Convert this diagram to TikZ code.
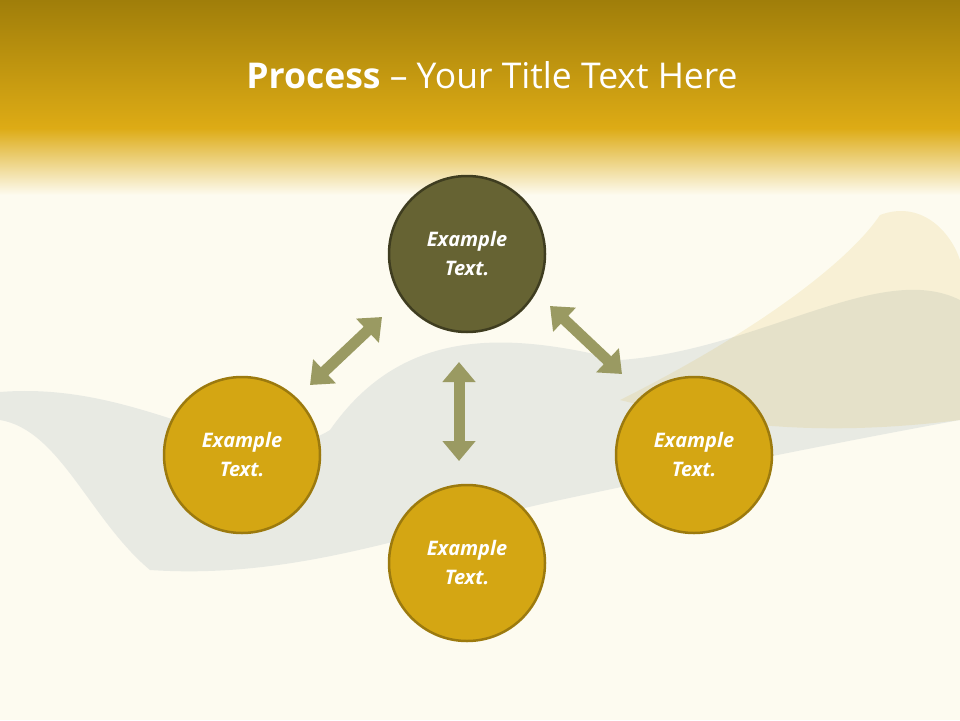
\documentclass[tikz,border=0pt]{standalone}
\usepackage{fontspec}
\setmainfont{Open Sans}
\usetikzlibrary{arrows.meta}
\definecolor{cream}{HTML}{FDFBF0}
\definecolor{golddark}{HTML}{A07E0A}
\definecolor{goldmid}{HTML}{DDAB15}
\definecolor{olive}{HTML}{666333}
\definecolor{olivebd}{HTML}{3F3D20}
\definecolor{goldc}{HTML}{D4A613}
\definecolor{goldbd}{HTML}{9C7A0E}
\definecolor{arr}{HTML}{9A9A62}
\definecolor{ribbon}{HTML}{B8C3C8}
\tikzset{
 circ/.style={circle,minimum size=156pt,inner sep=0pt,line width=2.5pt,draw=goldbd,fill=goldc,text=white,font=\fontsize{20}{29}\selectfont\bfseries\itshape,align=center},
 darkcirc/.style={circ,draw=olivebd,fill=olive},
 dbl/.style={arr,line width=11pt,{Triangle[width=32pt,length=20pt]}-{Triangle[width=32pt,length=20pt]}}
}
\begin{document}
\begin{tikzpicture}[x=1pt,y=-1pt]
\useasboundingbox (0,0) rectangle (960,720);
\fill[cream] (0,0) rectangle (960,720);
\shade[top color=golddark,bottom color=goldmid] (0,0) rectangle (960,128);
\shade[top color=goldmid,bottom color=cream] (0,128) rectangle (960,195);
% ribbon
\fill[ribbon,opacity=0.3] (0,392) .. controls (150,380) and (250,480) .. (330,430)
 .. controls (400,330) and (500,330) .. (620,360) .. controls (760,350) and (880,260) .. (960,300)
 -- (960,420) .. controls (850,440) and (700,470) .. (560,500)
 .. controls (420,530) and (300,580) .. (150,570) .. controls (90,520) and (60,430) .. (0,420) -- cycle;
\fill[goldc,opacity=0.12] (880,215) .. controls (920,200) and (950,230) .. (960,260) -- (960,420) .. controls (800,440) and (700,420) .. (620,400) .. controls (760,330) and (850,260) .. (880,215) -- cycle;
\node[text=white,font=\fontsize{35.5}{40}\selectfont] (title) at (492,75) {\textbf{Process} – Your Title Text Here};
\node[darkcirc] (top) at (467,254) {Example\\Text.};
\node[circ] (left) at (242,455) {Example\\Text.};
\node[circ] (right) at (694,455) {Example\\Text.};
\node[circ] (bot) at (467,563) {Example\\Text.};
\coordinate (a1) at (310,385); \coordinate (a2) at (382,317);
\coordinate (b1) at (550,306); \coordinate (b2) at (622,374);
\coordinate (c1) at (459,362); \coordinate (c2) at (459,461);
\draw[dbl] (a1) -- (a2);
\draw[dbl] (b1) -- (b2);
\draw[dbl] (c1) -- (c2);
\end{tikzpicture}
\end{document}
